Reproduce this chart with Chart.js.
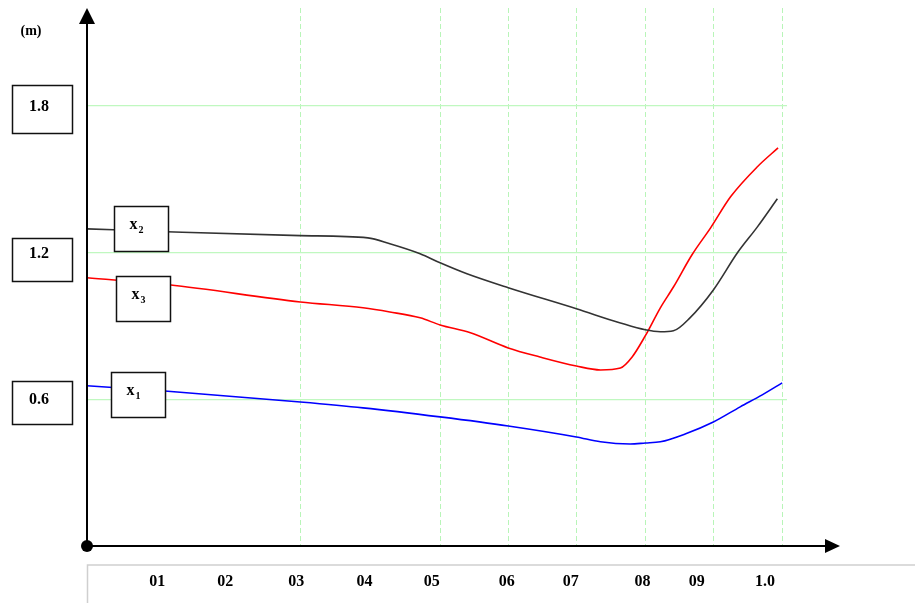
<!DOCTYPE html>
<html>
<head>
<meta charset="utf-8">
<script src="https://cdn.jsdelivr.net/npm/chart.js@4"></script>
<style>
  html, body { margin: 0; padding: 0; background: #fff; }
  #wrap { width: 915px; height: 603px; }
</style>
</head>
<body>
<div id="wrap"><canvas id="depthChart" width="915" height="603"></canvas></div>
<script>
// distance along the section (x) and depth in metres (y) for each curve
var x1Dist  = [0, 0.113, 0.310, 0.401, 0.513, 0.612, 0.711, 0.746, 0.789, 0.811, 0.833, 0.869, 0.910, 0.949, 0.981, 1.010];
var x1Depth = [0.655, 0.634, 0.589, 0.565, 0.528, 0.491, 0.446, 0.426, 0.417, 0.421, 0.426, 0.458, 0.507, 0.569, 0.618, 0.667];

var x2Dist  = [0, 0.116, 0.310, 0.408, 0.440, 0.484, 0.513, 0.552, 0.612, 0.711, 0.775, 0.811, 0.833, 0.852, 0.876, 0.910, 0.945, 0.974, 1.003];
var x2Depth = [1.297, 1.285, 1.269, 1.260, 1.236, 1.195, 1.158, 1.113, 1.056, 0.970, 0.912, 0.884, 0.876, 0.880, 0.933, 1.047, 1.199, 1.305, 1.420];

var x3Dist  = [0, 0.119, 0.310, 0.401, 0.440, 0.484, 0.513, 0.557, 0.612, 0.658, 0.711, 0.746, 0.775, 0.792, 0.811, 0.833, 0.852, 0.879, 0.906, 0.935, 0.974, 1.004];
var x3Depth = [1.097, 1.068, 0.998, 0.974, 0.957, 0.933, 0.904, 0.872, 0.810, 0.773, 0.736, 0.720, 0.728, 0.773, 0.859, 0.974, 1.059, 1.191, 1.301, 1.428, 1.551, 1.628];

// tick labels under the axis and where they sit
var xTickLabels = ["01", "02", "03", "04", "05", "06", "07", "08", "09", "1.0"];
var xTickPos    = [0.102, 0.201, 0.304, 0.403, 0.501, 0.610, 0.703, 0.807, 0.886, 0.985];
// vertical dashed grid
var xGridPos    = [0.310, 0.513, 0.612, 0.711, 0.811, 0.910, 1.010];
// depth ticks
var yTicks      = [0.6, 1.2, 1.8];

function pts(xs, ys) {
  return xs.map(function (x, i) { return { x: x, y: ys[i] }; });
}

var serif = "'Liberation Serif', 'DejaVu Serif', serif";

// boxed series names (offset in px from the point at the given x)
var seriesTags = [
  { name: "x", sub: "2", ds: 1, at: 0.078, dy: 0,  w: 54, h: 45 },
  { name: "x", sub: "3", ds: 2, at: 0.081, dy: 21, w: 54, h: 45 },
  { name: "x", sub: "1", ds: 0, at: 0.074, dy: 9,  w: 54, h: 45 }
];

// depth tick boxes: top / bottom offset from the tick line
var tickBox = { "1.8": [-21, 27], "1.2": [-15, 28], "0.6": [-18, 25] };

var decor = {
  id: "decor",
  afterDatasetsDraw: function (chart) {
    var ctx = chart.ctx;
    var xs = chart.scales.x, ys = chart.scales.y;
    var area = chart.chartArea;
    var ox = xs.getPixelForValue(0), oy = ys.getPixelForValue(0);
    ctx.save();

    // series name boxes
    seriesTags.forEach(function (t) {
      var px = xs.getPixelForValue(t.at);
      var data = chart.data.datasets[t.ds].data;
      var py = ys.getPixelForValue(data[0].y) + t.dy;
      var bx = Math.round(px - t.w / 2) + 0.5, by = Math.round(py - t.h / 2) + 0.5;
      ctx.fillStyle = "#fff";
      ctx.fillRect(bx, by, t.w, t.h);
      ctx.strokeStyle = "#111";
      ctx.lineWidth = 1.5;
      ctx.strokeRect(bx, by, t.w, t.h);
      ctx.fillStyle = "#000";
      ctx.font = "bold 16px " + serif;
      ctx.textBaseline = "alphabetic";
      ctx.textAlign = "left";
      ctx.fillText(t.name, bx + 15, by + 22);
      ctx.font = "bold 10px " + serif;
      ctx.fillText(t.sub, bx + 24, by + 26);
    });

    // axes
    ctx.strokeStyle = "#000";
    ctx.fillStyle = "#000";
    ctx.lineWidth = 2;
    ctx.beginPath();
    ctx.moveTo(ox, oy);
    ctx.lineTo(ox, area.top + 16);
    ctx.moveTo(ox, oy);
    ctx.lineTo(area.right + 38, oy);
    ctx.stroke();
    ctx.beginPath();
    ctx.moveTo(ox, area.top);
    ctx.lineTo(ox - 8, area.top + 16);
    ctx.lineTo(ox + 8, area.top + 16);
    ctx.closePath();
    ctx.fill();
    ctx.beginPath();
    ctx.moveTo(area.right + 53, oy);
    ctx.lineTo(area.right + 38, oy - 7);
    ctx.lineTo(area.right + 38, oy + 7);
    ctx.closePath();
    ctx.fill();
    ctx.beginPath();
    ctx.arc(ox, oy, 6, 0, Math.PI * 2);
    ctx.fill();

    // unit
    ctx.font = "bold 14px " + serif;
    ctx.textAlign = "center";
    ctx.textBaseline = "middle";
    ctx.fillText("(m)", 31, 31);

    // boxed depth ticks
    ctx.lineWidth = 1.5;
    yTicks.forEach(function (v) {
      var py = Math.round(ys.getPixelForValue(v));
      var b = tickBox[v.toFixed(1)];
      ctx.strokeStyle = "#111";
      ctx.strokeRect(12.5, py + b[0] + 0.5, 60, b[1] - b[0]);
      ctx.fillStyle = "#000";
      ctx.font = "bold 16px " + serif;
      ctx.textAlign = "center";
      ctx.textBaseline = "middle";
      ctx.fillText(v.toFixed(1), 39, py + 1);
    });

    // frame and labels under the x axis
    ctx.strokeStyle = "#cfcfcf";
    ctx.lineWidth = 1.5;
    ctx.beginPath();
    ctx.moveTo(ox + 0.5, chart.height);
    ctx.lineTo(ox + 0.5, oy + 19);
    ctx.lineTo(chart.width, oy + 19);
    ctx.stroke();
    ctx.fillStyle = "#000";
    ctx.font = "bold 16px " + serif;
    xTickLabels.forEach(function (lab, i) {
      ctx.fillText(lab, xs.getPixelForValue(xTickPos[i]), oy + 36);
    });
    ctx.restore();
  }
};

var ctx = document.getElementById("depthChart").getContext("2d");

var depthChart = new Chart(ctx, {
  type: "line",
  data: {
    datasets: [
      { label: "x1", data: pts(x1Dist, x1Depth), borderColor: "#0000ff" },
      { label: "x2", data: pts(x2Dist, x2Depth), borderColor: "#333333" },
      { label: "x3", data: pts(x3Dist, x3Depth), borderColor: "#ff0000" }
    ]
  },
  options: {
    responsive: false,
    animation: false,
    layout: { padding: { left: 87, top: 8, right: 128, bottom: 57 } },
    elements: {
      point: { radius: 0 },
      line: { borderWidth: 1.6, tension: 0.4, cubicInterpolationMode: "monotone", fill: false }
    },
    plugins: {
      legend: { display: false },
      tooltip: { enabled: false }
    },
    scales: {
      x: {
        type: "linear",
        min: 0,
        max: 1.017,
        afterBuildTicks: function (scale) {
          scale.ticks = xGridPos.map(function (v) { return { value: v }; });
        },
        ticks: { display: false },
        border: { display: false, dash: [5, 3] },
        grid: { color: "#b8f5b8", lineWidth: 1, drawTicks: false }
      },
      y: {
        type: "linear",
        min: 0,
        max: 2.2,
        afterBuildTicks: function (scale) {
          scale.ticks = yTicks.map(function (v) { return { value: v }; });
        },
        ticks: { display: false },
        border: { display: false },
        grid: { color: "#c0f8c0", lineWidth: 1.2, drawTicks: false }
      }
    }
  },
  plugins: [decor]
});
</script>
</body>
</html>
